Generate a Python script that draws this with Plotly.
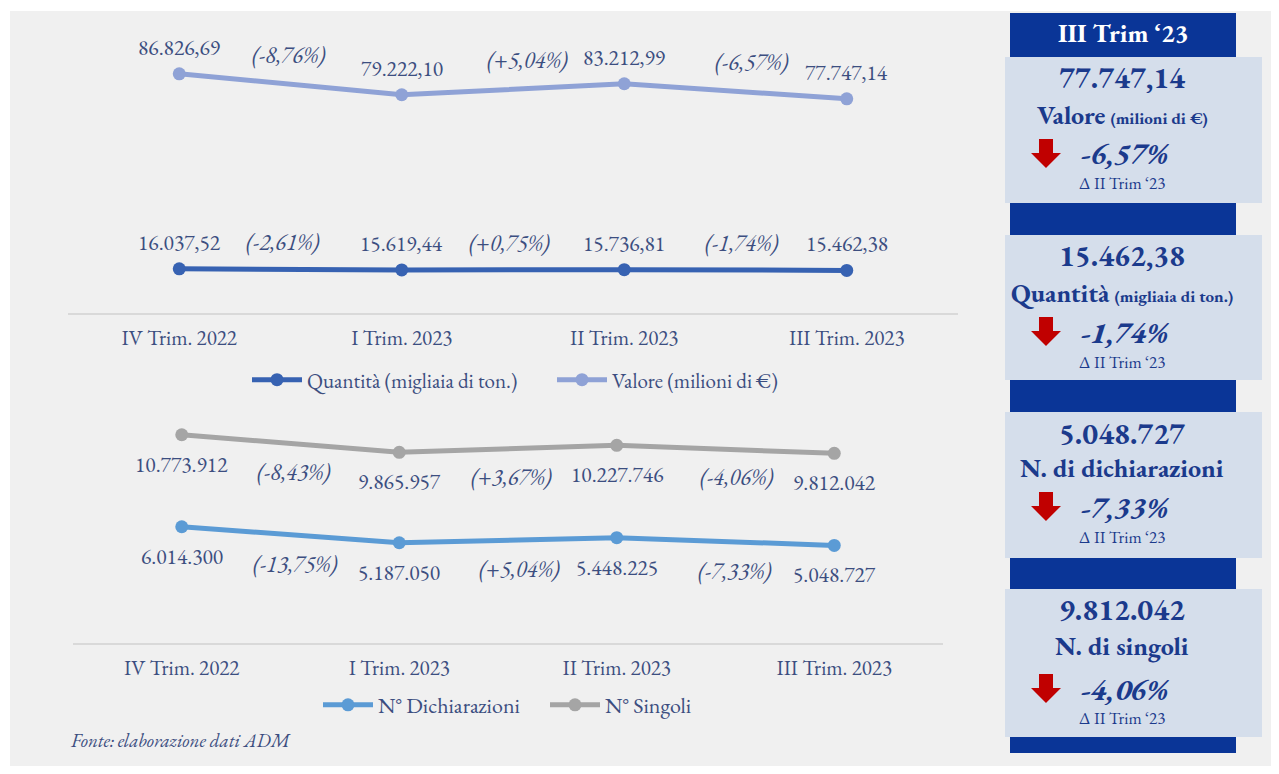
import plotly.graph_objects as go

# the page body adds an 8px margin, so the figure is 16px smaller than the window
OFF = 8
W, H = 1279 - 2 * OFF, 774 - 2 * OFF

# ---------------- data ----------------
categories = ["IV Trim. 2022", "I Trim. 2023", "II Trim. 2023", "III Trim. 2023"]
valore = [86826.69, 79222.10, 83212.99, 77747.14]          # milioni di €
quantita = [16037.52, 15619.44, 15736.81, 15462.38]        # migliaia di ton.
dichiarazioni = [6014300, 5187050, 5448225, 5048727]
singoli = [10773912, 9865957, 10227746, 9812042]

panel_header = "III Trim ‘23"
panel_delta_label = "Δ II Trim ‘23"
source_note = "Fonte: elaborazione dati ADM"

FONT = "Garamond, 'EB Garamond', 'Liberation Serif', serif"
TXT = "#3c4e80"
PANEL_TXT = "#1b3a8c"
DARK = "#0a3597"
LIGHT = "#d5deeb"
BG = "#f0f0f0"

C_VAL = "#8fa2d6"
C_QTA = "#3762b2"
C_DIC = "#5b9bd5"
C_SIN = "#a5a5a5"


def it_num(v, dec):
    s = f"{v:,.{dec}f}"
    return s.replace(",", "X").replace(".", ",").replace("X", ".")


def pct(a, b):
    p = (b / a - 1) * 100
    return f"{p:+.2f}".replace(".", ",")


def px_x(p):
    return (p - OFF) / W


def px_y(p):
    return 1 - (p - OFF) / H


xs = list(range(len(categories)))

fig = go.Figure()

fig.add_trace(go.Scatter(x=xs, y=quantita, mode="lines+markers", name="Quantità (migliaia di ton.)",
                         line=dict(color=C_QTA, width=5), marker=dict(size=13, color=C_QTA),
                         xaxis="x", yaxis="y", legend="legend", hoverinfo="skip"))
fig.add_trace(go.Scatter(x=xs, y=valore, mode="lines+markers", name="Valore (milioni di €)",
                         line=dict(color=C_VAL, width=5), marker=dict(size=13, color=C_VAL),
                         xaxis="x", yaxis="y", legend="legend", hoverinfo="skip"))
fig.add_trace(go.Scatter(x=xs, y=dichiarazioni, mode="lines+markers", name="N° Dichiarazioni",
                         line=dict(color=C_DIC, width=5), marker=dict(size=13, color=C_DIC),
                         xaxis="x2", yaxis="y2", legend="legend2", hoverinfo="skip"))
fig.add_trace(go.Scatter(x=xs, y=singoli, mode="lines+markers", name="N° Singoli",
                         line=dict(color=C_SIN, width=5), marker=dict(size=13, color=C_SIN),
                         xaxis="x2", yaxis="y2", legend="legend2", hoverinfo="skip"))

ann = []


def value_labels(series, dec, xref, yref, yshift):
    for i, v in enumerate(series):
        ann.append(dict(x=i, y=v, xref=xref, yref=yref, text=it_num(v, dec), showarrow=False,
                        xanchor="center", yanchor="middle", yshift=yshift,
                        font=dict(family=FONT, size=21.5, color=TXT)))


def pct_labels(series, xref, yref, yshift, xshifts):
    for i in range(len(series) - 1):
        ann.append(dict(x=i + 0.5, y=(series[i] + series[i + 1]) / 2, xref=xref, yref=yref,
                        text=f"<i>({pct(series[i], series[i + 1])}%)</i>", showarrow=False,
                        xanchor="center", yanchor="middle", yshift=yshift, xshift=xshifts[i],
                        font=dict(family=FONT, size=23, color=TXT)))


value_labels(valore, 2, "x", "y", 27)
value_labels(quantita, 2, "x", "y", 27)
pct_labels(valore, "x", "y", 29, [-2, 15, 16])
pct_labels(quantita, "x", "y", 27, [-8, -3, 6])
value_labels(singoli, 0, "x2", "y2", -29)
value_labels(dichiarazioni, 0, "x2", "y2", -29)
pct_labels(singoli, "x2", "y2", -28, [3, 4, 11])
pct_labels(dichiarazioni, "x2", "y2", -29, [5, 12, 9])

ann.append(dict(x=px_x(68), y=px_y(740), xref="paper", yref="paper", xanchor="left",
                yanchor="middle", text=f"<i>{source_note}</i>", showarrow=False,
                font=dict(family=FONT, size=19, color=TXT)))

shapes = [dict(type="rect", xref="paper", yref="paper", x0=px_x(10), x1=px_x(1271),
               y0=px_y(790), y1=px_y(11), fillcolor=BG, line=dict(width=0), layer="below")]

# ---------------- right panel ----------------
CX = 1122


def panel_text(x, y, text, size, color=PANEL_TXT):
    ann.append(dict(x=px_x(x), y=px_y(y), xref="paper", yref="paper", showarrow=False,
                    xanchor="center", yanchor="middle", text=text,
                    font=dict(family=FONT, size=size, color=color)))


shapes.append(dict(type="rect", xref="paper", yref="paper", x0=px_x(1010), x1=px_x(1236),
                   y0=px_y(57), y1=px_y(13), fillcolor=DARK, line=dict(width=0), layer="below"))
panel_text(1123, 33, f"<b>{panel_header}</b>", 26, "white")

boxes = [
    dict(top=57, bottom=203, value=it_num(valore[-1], 2),
         name="<b>Valore</b> <b><span style='font-size:17px'>(milioni di €)</span></b>",
         d=pct(valore[-2], valore[-1]), ty=(78, 115, 154, 183), bar=(203, 235)),
    dict(top=235, bottom=380, value=it_num(quantita[-1], 2),
         name="<b>Quantità</b> <b><span style='font-size:17px'>(migliaia di ton.)</span></b>",
         d=pct(quantita[-2], quantita[-1]), ty=(255, 293, 332, 362), bar=(380, 412)),
    dict(top=412, bottom=558, value=it_num(dichiarazioni[-1], 0),
         name="<b>N. di dichiarazioni</b>",
         d=pct(dichiarazioni[-2], dichiarazioni[-1]), ty=(433, 468, 507, 537), bar=(558, 589)),
    dict(top=589, bottom=737, value=it_num(singoli[-1], 0),
         name="<b>N. di singoli</b>",
         d=pct(singoli[-2], singoli[-1]), ty=(609, 646, 689, 718), bar=(737, 753)),
]

for b in boxes:
    shapes.append(dict(type="rect", xref="paper", yref="paper", x0=px_x(1005), x1=px_x(1262),
                       y0=px_y(b["bottom"]), y1=px_y(b["top"]), fillcolor=LIGHT,
                       line=dict(width=0), layer="below"))
    shapes.append(dict(type="rect", xref="paper", yref="paper", x0=px_x(1010), x1=px_x(1236),
                       y0=px_y(b["bar"][1]), y1=px_y(b["bar"][0]), fillcolor=DARK,
                       line=dict(width=0), layer="below"))
    y_val, y_name, y_pct, y_delta = b["ty"]
    panel_text(CX, y_val, f"<b>{b['value']}</b>", 30)
    panel_text(CX, y_name, b["name"], 26)
    panel_text(1125, y_pct, f"<b><i>{b['d']}%</i></b>".replace("+", ""), 30)
    panel_text(CX, y_delta, panel_delta_label, 17)
    # red down arrow
    ax, at, ab = 1046, y_pct - 15, y_pct + 14
    sw, hw, hy = 7, 15, y_pct - 1
    pts = [(ax - sw, at), (ax + sw, at), (ax + sw, hy), (ax + hw, hy), (ax, ab),
           (ax - hw, hy), (ax - sw, hy)]
    path = "M " + " L ".join(f"{px_x(x):.5f},{px_y(y):.5f}" for x, y in pts) + " Z"
    shapes.append(dict(type="path", xref="paper", yref="paper", path=path,
                       fillcolor="#c00000", line=dict(width=0)))

axis_common = dict(showgrid=False, zeroline=False, fixedrange=True, automargin=False)

fig.update_layout(
    width=W, height=H,
    margin=dict(l=0, r=0, t=0, b=0),
    paper_bgcolor="white", plot_bgcolor="rgba(0,0,0,0)",
    font=dict(family=FONT, color=TXT),
    xaxis=dict(domain=[px_x(68), px_x(958)], range=[-0.5, 3.5], tickmode="array",
               tickvals=xs, ticktext=categories, showline=True, linecolor="#d9d9d9", linewidth=2,
               ticks="", ticklabelstandoff=5, tickfont=dict(family=FONT, size=21, color=TXT),
               anchor="y", **axis_common),
    yaxis=dict(domain=[px_y(313), px_y(37.5)], range=[0, 100000], visible=False, anchor="x",
               **axis_common),
    xaxis2=dict(domain=[px_x(73), px_x(943)], range=[-0.5, 3.5], tickmode="array",
                tickvals=xs, ticktext=categories, showline=True, linecolor="#d9d9d9", linewidth=2,
                ticks="", ticklabelstandoff=5, tickfont=dict(family=FONT, size=21, color=TXT),
                anchor="y2", **axis_common),
    yaxis2=dict(domain=[px_y(643), px_y(372.4)], range=[0, 14000000], visible=False,
                anchor="x2", **axis_common),
    legend=dict(orientation="h", x=px_x(247), y=px_y(380), xanchor="left", yanchor="middle",
                bgcolor="rgba(0,0,0,0)", font=dict(family=FONT, size=21, color=TXT),
                itemwidth=50, entrywidth=240, entrywidthmode="pixels", tracegroupgap=0),
    legend2=dict(orientation="h", x=px_x(318), y=px_y(705), xanchor="left", yanchor="middle",
                 bgcolor="rgba(0,0,0,0)", font=dict(family=FONT, size=22, color=TXT),
                 itemwidth=50, entrywidth=162, entrywidthmode="pixels", tracegroupgap=0),
    annotations=ann,
    shapes=shapes,
    showlegend=True,
)

fig.write_html("out.html")
